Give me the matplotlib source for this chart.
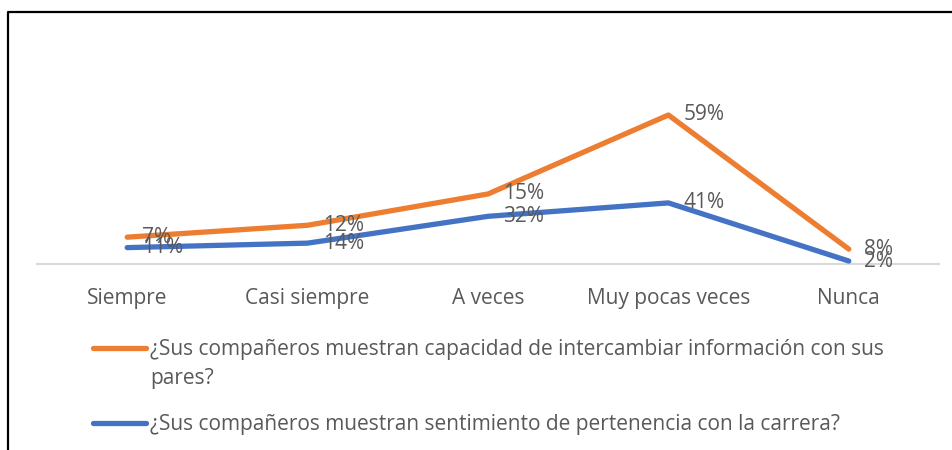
import matplotlib
matplotlib.use("Agg")
import matplotlib.pyplot as plt
from matplotlib.lines import Line2D
import numpy as np

categories = ["Siempre", "Casi siempre", "A veces", "Muy pocas veces", "Nunca"]
intercambio = [7, 12, 15, 59, 8]      # orange series (stacked on top of blue)
pertenencia = [11, 14, 32, 41, 2]     # blue series
series_names = [
    "¿Sus compañeros muestran capacidad de intercambiar información con sus\npares?",
    "¿Sus compañeros muestran sentimiento de pertenencia con la carrera?",
]

ORANGE = "#ED7D31"
BLUE = "#4472C4"
TXT = "#595959"
FONT = ["Open Sans", "DejaVu Sans"]
FS = 15.0

W, H = 953, 450
fig = plt.figure(figsize=(W / 100, H / 100), dpi=100)

def fx(px):
    return px / W

def fy(py):
    return 1 - py / H

ax_left, ax_right = 37, 939
ax_top, ax_bottom = 115, 264
ax = fig.add_axes([fx(ax_left), fy(ax_bottom), (ax_right - ax_left) / W, (ax_bottom - ax_top) / H])

x = np.arange(len(categories))
blue = np.array(pertenencia, dtype=float)
orange = blue + np.array(intercambio, dtype=float)

ax.plot(x, orange, color=ORANGE, lw=3.8, solid_capstyle="round", solid_joinstyle="round", clip_on=False, zorder=3)
ax.plot(x, blue, color=BLUE, lw=3.8, solid_capstyle="round", solid_joinstyle="round", clip_on=False, zorder=3)

for xi, yv, lab in zip(x, orange, intercambio):
    ax.annotate(f"{lab}%", (xi, yv), xytext=(15, 0), textcoords="offset pixels",
                ha="left", va="center", fontsize=FS, color=TXT, family=FONT, zorder=4)
for xi, yv, lab in zip(x, blue, pertenencia):
    ax.annotate(f"{lab}%", (xi, yv), xytext=(15, 0), textcoords="offset pixels",
                ha="left", va="center", fontsize=FS, color=TXT, family=FONT, zorder=4)

ax.set_xlim(-0.5, len(categories) - 0.5)
ax.set_ylim(0, 100)
ax.set_yticks([])
ax.set_xticks(x)
ax.set_xticklabels(categories, fontsize=FS, color=TXT, family=FONT)
ax.tick_params(axis="x", length=0, pad=17)
for s in ["top", "right", "left"]:
    ax.spines[s].set_visible(False)
ax.spines["bottom"].set_color("#D9D9D9")
ax.spines["bottom"].set_linewidth(1.5)
ax.patch.set_alpha(0)

# legend (manual)
leg_colors = [ORANGE, BLUE]
leg_y = [348, 423]
for c, ly, name in zip(leg_colors, leg_y, series_names):
    fig.add_artist(Line2D([fx(93), fx(146)], [fy(ly), fy(ly)], color=c, lw=3.8,
                          solid_capstyle="round", transform=fig.transFigure))
    fig.text(fx(150), fy(ly - 9), name, ha="left", va="top", fontsize=FS, color=TXT,
             family=FONT, linespacing=1.52)

# frame
fig.add_artist(Line2D([fx(8), fx(8), fx(W + 5)], [fy(H + 5), fy(11.5), fy(11.5)],
                      color="black", lw=1.6, transform=fig.transFigure))

fig.savefig("out.png", dpi=100)
